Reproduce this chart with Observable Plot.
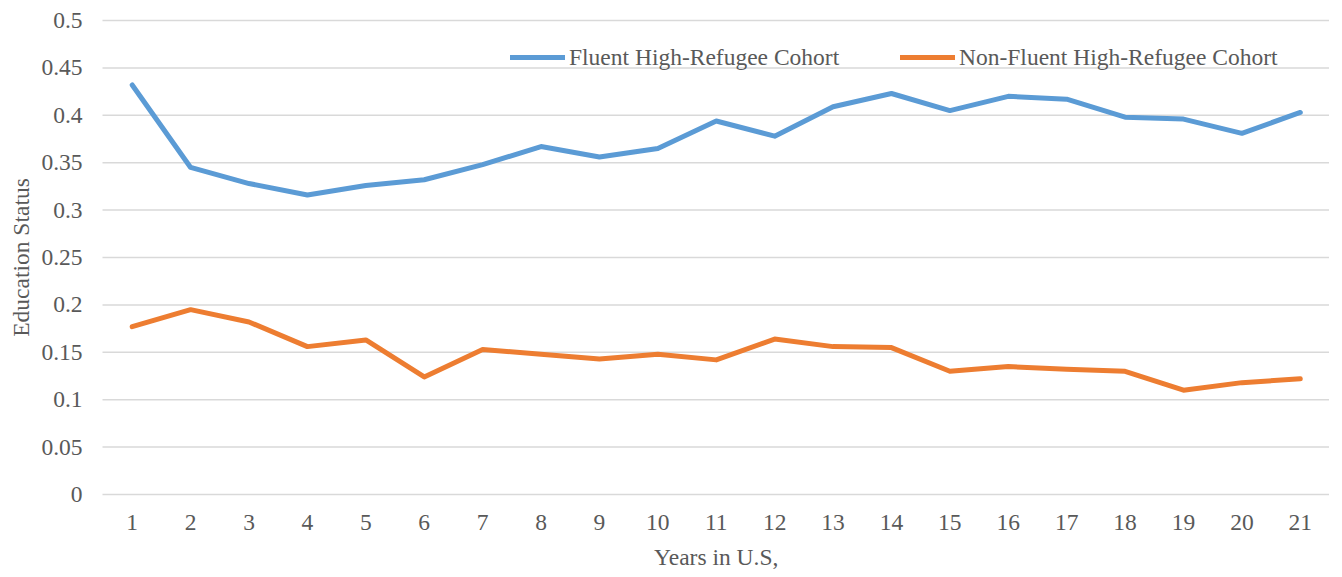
<!DOCTYPE html>
<html>
<head>
<meta charset="utf-8">
<script src="https://cdn.jsdelivr.net/npm/d3@7"></script>
<script src="https://cdn.jsdelivr.net/npm/@observablehq/plot@0.6"></script>
<style>
  html, body { margin: 0; padding: 0; background: #fff; }
  #wrap { position: relative; width: 1342px; height: 577px; font-family: "Liberation Serif", "Times New Roman", serif; color: #595959; }
  .legend { position: absolute; top: 43px; height: 28px; display: flex; align-items: center; font-size: 23.5px; white-space: nowrap; }
  .swatch { display: inline-block; width: 55px; height: 5px; margin-right: 4px; }
</style>
</head>
<body>
<div id="wrap"></div>
<script>
const years = [1,2,3,4,5,6,7,8,9,10,11,12,13,14,15,16,17,18,19,20,21];
const fluent = [0.432,0.345,0.328,0.316,0.326,0.332,0.348,0.367,0.356,0.365,0.394,0.378,0.409,0.423,0.405,0.420,0.417,0.398,0.396,0.381,0.403];
const nonFluent = [0.177,0.195,0.182,0.156,0.163,0.124,0.153,0.148,0.143,0.148,0.142,0.164,0.156,0.155,0.130,0.135,0.132,0.130,0.110,0.118,0.122];
const seriesNames = ["Fluent High-Refugee Cohort", "Non-Fluent High-Refugee Cohort"];
const seriesColors = ["#5B9BD5", "#ED7D31"];
const yTicks = [0, 0.05, 0.1, 0.15, 0.2, 0.25, 0.3, 0.35, 0.4, 0.45, 0.5];
const yTickLabels = ["0","0.05","0.1","0.15","0.2","0.25","0.3","0.35","0.4","0.45","0.5"];

const rows = [];
years.forEach((y, i) => {
  rows.push({year: y, value: fluent[i], series: seriesNames[0]});
  rows.push({year: y, value: nonFluent[i], series: seriesNames[1]});
});

const chart = Plot.plot({
  width: 1342,
  height: 577,
  marginLeft: 102.5,
  marginRight: 13,
  marginTop: 20,
  marginBottom: 83,
  style: { fontFamily: "'Liberation Serif', 'Times New Roman', serif", fontSize: "23.5px", color: "#595959", background: "#fff" },
  x: { type: "point", domain: years, padding: 0.5, round: false, label: "Years in U.S,", labelAnchor: "center", labelArrow: "none" },
  y: { domain: [0, 0.5], label: "Education Status", labelAnchor: "center", labelArrow: "none" },
  color: { domain: seriesNames, range: seriesColors },
  marks: [
    Plot.ruleY(yTicks, { stroke: "#D9D9D9", strokeWidth: 1.5 }),
    Plot.axisY(yTicks, { tickSize: 0, tickPadding: 20.5, tickFormat: (d) => yTickLabels[yTicks.indexOf(d)], label: "Education Status", labelAnchor: "center", labelArrow: "none", labelOffset: 91 }),
    Plot.axisX(years, { tickSize: 0, tickPadding: 19, label: "Years in U.S,", labelAnchor: "center", labelArrow: "none", labelOffset: 70 }),
    Plot.line(rows, { x: "year", y: "value", z: "series", stroke: "series", strokeWidth: 5, strokeLinejoin: "round", strokeLinecap: "round" })
  ]
});

const wrap = document.getElementById("wrap");
wrap.appendChild(chart);

const lefts = [510, 900];
seriesNames.forEach((name, i) => {
  const d = document.createElement("div");
  d.className = "legend";
  d.style.left = lefts[i] + "px";
  d.innerHTML = `<span class="swatch" style="background:${seriesColors[i]}"></span><span>${name}</span>`;
  wrap.appendChild(d);
});
</script>
</body>
</html>
